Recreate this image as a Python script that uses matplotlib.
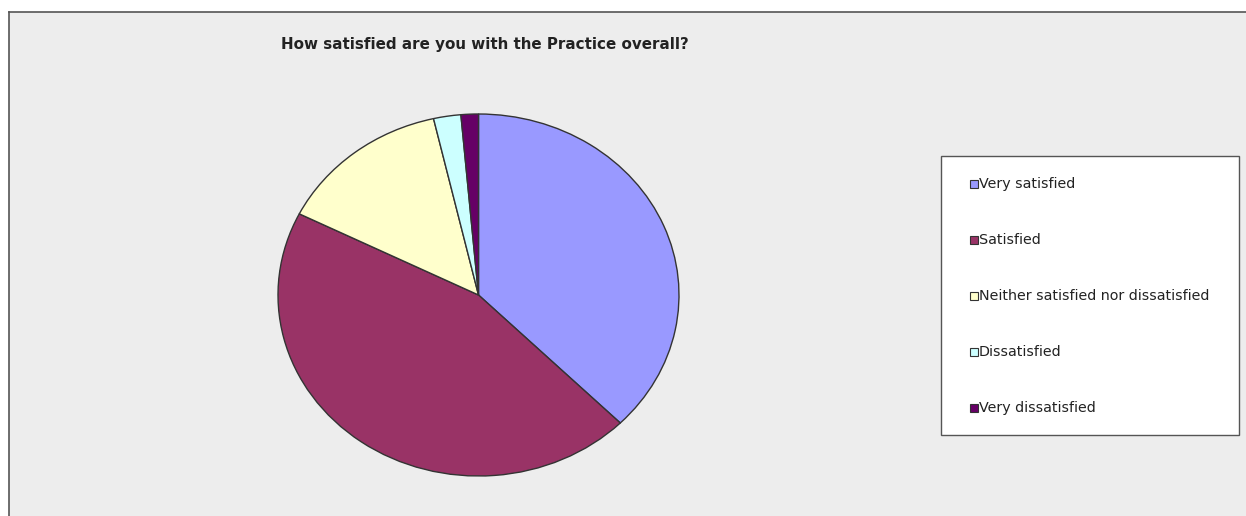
import matplotlib
matplotlib.use("Agg")
import matplotlib.pyplot as plt
from matplotlib.patches import Rectangle

categories = ["Very satisfied", "Satisfied", "Neither satisfied nor dissatisfied",
              "Dissatisfied", "Very dissatisfied"]
values = [37.5, 44.9, 14.0, 2.2, 1.4]
colors = ["#9999FF", "#993366", "#FFFFCC", "#CCFFFF", "#660066"]
title = "How satisfied are you with the Practice overall?"

W, H = 1246, 516
fig = plt.figure(figsize=(W / 100, H / 100), dpi=100)
fig.patch.set_facecolor("white")

def fx(px):
    return px / W

def fy(py):
    return 1 - py / H

# chart area background with top/left border
bg = Rectangle((fx(9), 0), 1 - fx(9), fy(12), transform=fig.transFigure,
               facecolor="#EDEDED", edgecolor="none", zorder=0)
fig.patches.append(bg)
fig.add_artist(plt.Line2D([fx(9), 1], [fy(12), fy(12)], transform=fig.transFigure,
                          color="#555555", lw=1.2, zorder=1))
fig.add_artist(plt.Line2D([fx(9), fx(9)], [0, fy(12)], transform=fig.transFigure,
                          color="#555555", lw=1.2, zorder=1))

# pie axes (ellipse: x 278..679, y 114..476)
ax = fig.add_axes([fx(278), fy(476), fx(679) - fx(278), fy(114) - fy(476)])
ax.set_zorder(5)
ax.patch.set_visible(False)
wedges, _ = ax.pie(values, colors=colors, startangle=90, counterclock=False,
                   wedgeprops=dict(edgecolor="#333333", linewidth=1.0))
ax.set_aspect("auto")
ax.set_xlim(-1.0, 1.0)
ax.set_ylim(-1.0, 1.0)
ax.axis("off")

fig.text(fx(485), fy(44), title, ha="center", va="center",
         fontsize=10.9, fontweight="bold", family="DejaVu Sans", color="#222222")

# legend box
lx0, ly0, lx1, ly1 = 941, 156, 1239, 435
fig.patches.append(Rectangle((fx(lx0), fy(ly1)), fx(lx1) - fx(lx0), fy(ly0) - fy(ly1),
                             transform=fig.transFigure, facecolor="white",
                             edgecolor="#555555", lw=1.0, zorder=1))
ys = [184, 240, 296, 352, 408]
for lab, col, yy in zip(categories, colors, ys):
    fig.patches.append(Rectangle((fx(970), fy(yy + 4)), fx(978) - fx(970), fy(yy - 4) - fy(yy + 4),
                                 transform=fig.transFigure, facecolor=col,
                                 edgecolor="#333333", lw=0.8, zorder=2))
    fig.text(fx(979), fy(yy), lab, ha="left", va="center", fontsize=10.3,
             family="DejaVu Sans", color="#222222", zorder=3)

fig.savefig("out.png", dpi=100)
